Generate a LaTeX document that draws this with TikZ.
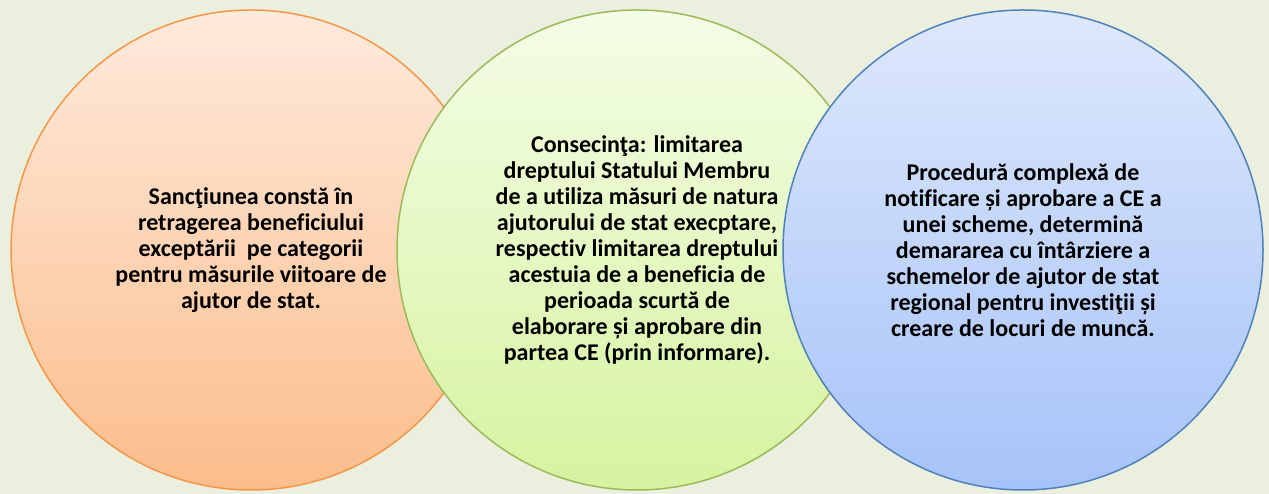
\documentclass[tikz,border=0pt]{standalone}
\usepackage{fontspec}
\setmainfont{Carlito}[Ligatures=NoCommon]

\definecolor{bgcol}{HTML}{EBF0DE}
\definecolor{orangeline}{HTML}{F79646}
\definecolor{orangetop}{HTML}{FFEADC}
\definecolor{orangebot}{HTML}{FBBD8C}
\definecolor{greenline}{HTML}{9BBB59}
\definecolor{greentop}{HTML}{F4FDE6}
\definecolor{greenbot}{HTML}{D6F3A0}
\definecolor{blueline}{HTML}{4F81BD}
\definecolor{bluetop}{HTML}{DEE8FB}
\definecolor{bluebot}{HTML}{A6C3F9}

\tikzset{
    bubble/.style={circle, minimum size=480pt, inner sep=0pt, line width=1.5pt,
        align=center, text=black, font=\bfseries\fontsize{24}{26}\selectfont},
    orangebubble/.style={bubble, draw=orangeline, top color=orangetop, bottom color=orangebot},
    greenbubble/.style={bubble, draw=greenline, top color=greentop, bottom color=greenbot},
    bluebubble/.style={bubble, draw=blueline, top color=bluetop, bottom color=bluebot}
}

\begin{document}
\begin{tikzpicture}[x=1pt, y=1pt]
    % background, also fixes the margins
    \fill[bgcol] (0,0) rectangle (1269,494);

    \node[orangebubble] (sanctiune) at (251,244) {Sancţiunea constă în\\
        retragerea beneficiului\\
        exceptării~ pe categorii\\
        pentru măsurile viitoare de\\
        ajutor de stat.};

    \node[greenbubble] (consecinta) at (637,244) {Consecinţa: limitarea\\
        dreptului Statului Membru\\
        de a utiliza măsuri de natura\\
        ajutorului de stat execptare,\\
        respectiv limitarea dreptului\\
        acestuia de a beneficia de\\
        perioada scurtă de\\
        elaborare și aprobare din\\
        partea CE (prin informare).};

    \node[bluebubble] (procedura) at (1023,244) {Procedură complexă de\\
        notificare și aprobare a CE a\\
        unei scheme, determină\\
        demararea cu întârziere a\\
        schemelor de ajutor de stat\\
        regional pentru investiţii și\\
        creare de locuri de muncă.};
\end{tikzpicture}
\end{document}
